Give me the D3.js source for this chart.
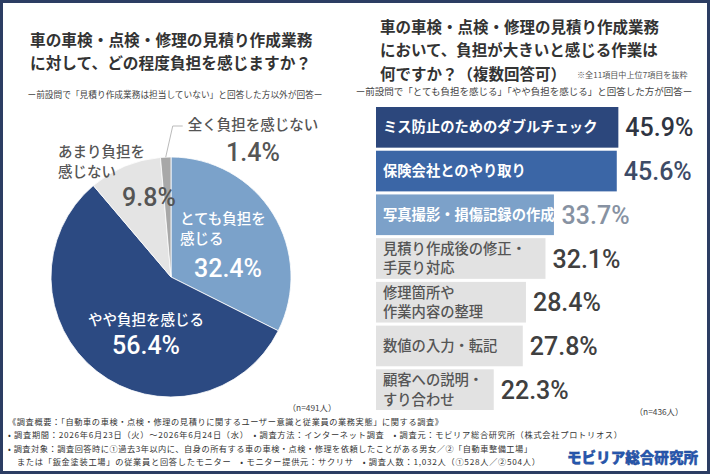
<!DOCTYPE html>
<html><head><meta charset="utf-8">
<script src="https://cdn.jsdelivr.net/npm/d3@7"></script>
<style>
html,body{margin:0;padding:0;background:#fff;}
svg{display:block;}
text{font-family:"Noto Sans CJK JP","Noto Sans",sans-serif;}
.num{font-family:Roboto,"Noto Sans",sans-serif;}
</style></head>
<body>
<svg id="c" width="710" height="474"></svg>
<script>
// ---- data ----
const pieCategories = ["とても負担を感じる","やや負担を感じる","あまり負担を感じない","全く負担を感じない"];
const pieValues = [32.4, 56.4, 9.8, 1.4];
const pieN = "（n=491人）";

const barCategories = ["ミス防止のためのダブルチェック","保険会社とのやり取り","写真撮影・損傷記録の作成","見積り作成後の修正・手戻り対応","修理箇所や作業内容の整理","数値の入力・転記","顧客への説明・すり合わせ"];
const barValues = [45.9, 45.6, 33.7, 32.1, 28.4, 27.8, 22.3];
const barN = "（n=436人）";

const leftTitle = ["車の車検・点検・修理の見積り作成業務","に対して、どの程度負担を感じますか？"];
const leftSub = "ー前設問で「見積り作成業務は担当していない」と回答した方以外が回答ー";
const rightTitle = ["車の車検・点検・修理の見積り作成業務","において、負担が大きいと感じる作業は","何ですか？（複数回答可）"];
const rightNote = "※全11項目中上位7項目を抜粋";
const rightSub = "ー前設問で「とても負担を感じる」「やや負担を感じる」と回答した方が回答ー";
const footerLines = [
 "《調査概要：「自動車の車検・点検・修理の見積りに関するユーザー意識と従業員の業務実態」に関する調査》",
 "• 調査期間：2026年6月23日（火）～2026年6月24日（水）　• 調査方法：インターネット調査　• 調査元：モビリア総合研究所（株式会社プロトリオス）",
 "• 調査対象：調査回答時に①過去3年以内に、自身の所有する車の車検・点検・修理を依頼したことがある男女／②「自動車整備工場」",
 "　または「鈑金塗装工場」の従業員と回答したモニター　• モニター提供元：サクリサ　• 調査人数：1,032人（①528人／②504人）"
];
const logoText = "モビリア総合研究所";

// ---- display layout / style (not data) ----
const pieLabelLines = [["とても負担を","感じる"],["やや負担を感じる"],["あまり負担を","感じない"],["全く負担を感じない"]];
const pieColors = ["#7ba2ca","#2c4a82","#e4e4e4","#a8a8a8"];
const pieLabelColor = ["#fff","#fff","#555","#555"];
// offsets of label blocks from pie centre: [textX, textY, anchor, valueX, valueY, valueAnchor]
const pieLabelLayout = [
  [9, -58, "start", 23, -9, "start"],
  [-25, 43, "middle", -25, 68, "middle"],
  [-113, -125, "start", -22, -80, "middle"],
  [82, -152, "middle", 82, -125, "middle"]
];
const barLabelLines = [["ミス防止のためのダブルチェック"],["保険会社とのやり取り"],["写真撮影・損傷記録の作成"],["見積り作成後の修正・","手戻り対応"],["修理箇所や","作業内容の整理"],["数値の入力・転記"],["顧客への説明・","すり合わせ"]];
const barColors = ["#2c477c","#3b66a6","#7ca1c9","#e2e2e2","#e2e2e2","#e2e2e2","#e2e2e2"];
const barLabelColors = ["#fff","#fff","#fff","#555","#555","#555","#555"];
const barValueColors = ["#2f3542","#3d4b66","#8792a2","#404040","#404040","#404040","#404040"];

const svg = d3.select("#c");
svg.append("rect").attr("x",0).attr("y",0).attr("width",710).attr("height",474).attr("fill","#fff");

// ---- left titles ----
svg.append("g").selectAll("text").data(leftTitle).join("text")
  .attr("x",30).attr("y",(d,i)=>40+i*23).attr("dy","0.36em")
  .attr("font-size",15.7).attr("font-weight",700).attr("fill","#333").text(d=>d);
svg.append("text").attr("x",175).attr("y",95).attr("dy","0.36em").attr("text-anchor","middle")
  .attr("font-size",8.7).attr("fill","#444").text(leftSub);

// ---- pie ----
const cx = 171, cy = 277, R = 120;
const pie = d3.pie().sort(null).value(d=>d)(pieValues);
const arc = d3.arc().innerRadius(0).outerRadius(R);
const gp = svg.append("g").attr("transform",`translate(${cx},${cy})`);
gp.selectAll("path").data(pie).join("path")
  .attr("d",arc).attr("fill",(d,i)=>pieColors[i]).attr("stroke","#fff").attr("stroke-width",0.8);

// leader line for smallest slice
const small = pie[3];
const ma = (small.startAngle+small.endAngle)/2;
const p0 = [Math.sin(ma)*R, -Math.cos(ma)*R];
gp.append("path").attr("d",d3.line()([[p0[0],p0[1]],[p0[0]+7,-151],[p0[0]+17,-151]]))
  .attr("fill","none").attr("stroke","#bbb").attr("stroke-width",1);

pie.forEach((d,i)=>{
  const L = pieLabelLayout[i];
  const t = gp.append("text").attr("font-size",14.5).attr("font-weight",500)
    .attr("fill",pieLabelColor[i]).attr("text-anchor",L[2]);
  pieLabelLines[i].forEach((ln,j)=>{
    t.append("tspan").attr("x",L[0]).attr("y",L[1]+j*19.5).attr("dy","0.36em").text(ln);
  });
  gp.append("text").attr("class","num").attr("x",L[3]).attr("y",L[4]).attr("dy","0.36em")
    .attr("text-anchor",L[5]).attr("font-size",25).attr("font-weight",500)
    .attr("fill",pieLabelColor[i]).text(d3.format(".1f")(pieValues[i])+"%");
});
svg.append("text").attr("x",312).attr("y",408).attr("dy","0.36em").attr("text-anchor","middle")
  .attr("font-size",8.3).attr("fill","#444").text(pieN);

// ---- right titles ----
svg.append("g").selectAll("text").data(rightTitle).join("text")
  .attr("x",380).attr("y",(d,i)=>27+i*23.5).attr("dy","0.36em")
  .attr("font-size",15.5).attr("font-weight",700).attr("fill","#333").text(d=>d);
svg.append("text").attr("x",577).attr("y",75).attr("dy","0.36em")
  .attr("font-size",8.1).attr("fill","#555").text(rightNote);
svg.append("text").attr("x",524).attr("y",92).attr("dy","0.36em").attr("text-anchor","middle")
  .attr("font-size",9.5).attr("fill","#444").text(rightSub);

// ---- bars ----
const x = d3.scaleLinear().domain([0,50]).range([376,640]);
const y = d3.scaleBand().domain(barCategories).range([107,410]).paddingInner(0.07).paddingOuter(0);
const gb = svg.append("g");
gb.selectAll("rect").data(barValues).join("rect")
  .attr("x",x(0)).attr("y",(d,i)=>y(barCategories[i]))
  .attr("width",d=>x(d)-x(0)).attr("height",y.bandwidth())
  .attr("fill",(d,i)=>barColors[i]);
barValues.forEach((v,i)=>{
  const yc = y(barCategories[i]) + y.bandwidth()/2;
  const lines = barLabelLines[i];
  const t = gb.append("text").attr("font-size",14.3)
    .attr("font-weight", i<3 ? 700 : 500).attr("fill",barLabelColors[i]);
  let maxW = 0;
  lines.forEach((ln,j)=>{
    const ts = t.append("tspan").attr("x",x(0)+7)
      .attr("y", yc + (j-(lines.length-1)/2)*19.5).attr("dy","0.36em").text(ln);
    maxW = Math.max(maxW, ts.node().getComputedTextLength());
  });
  const vx = Math.max(x(v), x(0)+7+maxW) + 7;
  gb.append("text").attr("class","num").attr("x",vx).attr("y",yc).attr("dy","0.36em")
    .attr("font-size",25).attr("font-weight",500).attr("fill",barValueColors[i])
    .text(d3.format(".1f")(v)+"%");
});
svg.append("text").attr("x",659).attr("y",412).attr("dy","0.36em").attr("text-anchor","middle")
  .attr("font-size",8.3).attr("fill","#444").text(barN);

// ---- footer ----
const fx = [8,8,8,8], fEnd = [443,622,532,540];
svg.append("g").selectAll("text").data(footerLines).join("text")
  .attr("x",(d,i)=>fx[i]).attr("y",(d,i)=>422+i*13.5).attr("dy","0.36em")
  .attr("font-size",8.2).attr("fill","#333")
  .attr("textLength",(d,i)=>fEnd[i]-fx[i]).attr("lengthAdjust","spacing")
  .text(d=>d);
svg.append("text").attr("x",567).attr("y",458).attr("dy","0.36em")
  .attr("font-size",14.6).attr("font-weight",900).attr("fill","#2758b0")
  .attr("stroke","#1e4690").attr("stroke-width",0.4)
  .attr("textLength",131).attr("lengthAdjust","spacingAndGlyphs").text(logoText);

// frame
svg.append("rect").attr("x",1.5).attr("y",1.5).attr("width",707).attr("height",471)
  .attr("fill","none").attr("stroke","#2c3d63").attr("stroke-width",3);
</script>
</body></html>
